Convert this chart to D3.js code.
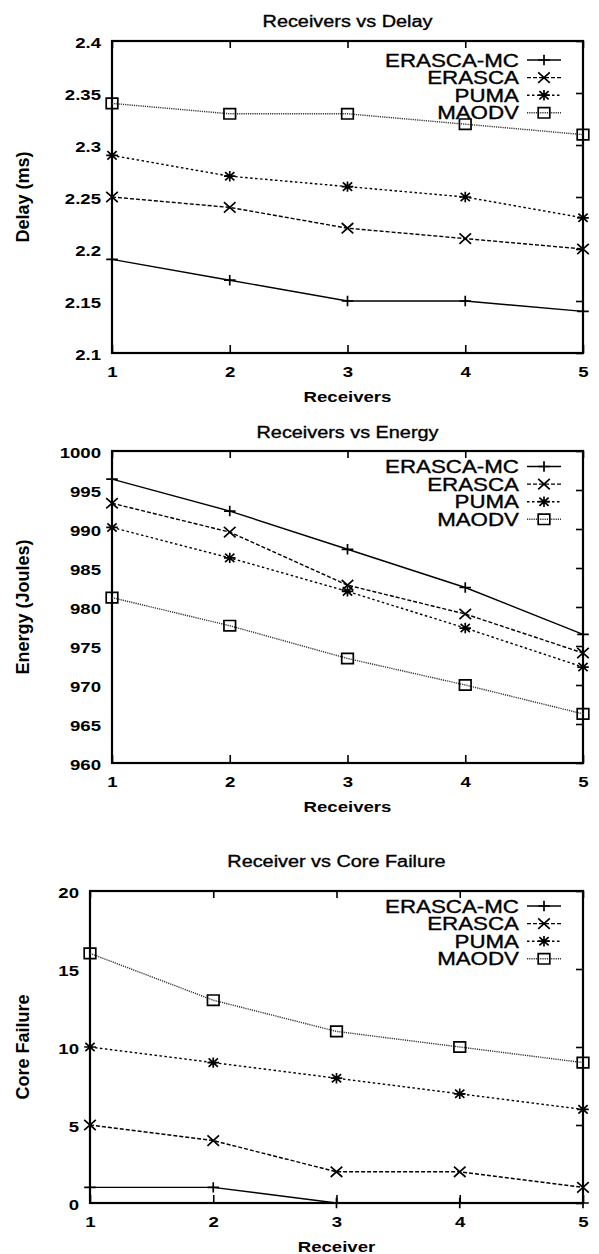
<!DOCTYPE html>
<html>
<head>
<style>
  body { margin: 0; background: #fff; }
  svg text { font-family: "Liberation Sans", Arial, sans-serif; fill: #000; }
  .title { font-size: 16px; text-anchor: middle; stroke: #000; stroke-width: 0.35px; }
  .tick text { font-size: 15px; font-weight: bold; }
  .axis-label { font-size: 15px; font-weight: bold; text-anchor: middle; }
  .legend text { font-size: 18px; text-anchor: end; stroke: #000; stroke-width: 0.35px; }
  .frame { fill: none; stroke: #000; stroke-width: 2.2; }
  .tick line { stroke-width: 1.6; }
</style>
<script src="https://cdnjs.cloudflare.com/ajax/libs/d3/7.8.5/d3.min.js"></script>
</head>
<body>
<svg width="599" height="1254"></svg>
<script>
var receivers = [1, 2, 3, 4, 5];
var seriesNames = ["ERASCA-MC", "ERASCA", "PUMA", "MAODV"];

var delayErascaMC = [2.19, 2.17, 2.15, 2.15, 2.14];
var delayErasca   = [2.25, 2.24, 2.22, 2.21, 2.20];
var delayPuma     = [2.29, 2.27, 2.26, 2.25, 2.23];
var delayMaodv    = [2.34, 2.33, 2.33, 2.32, 2.31];
var delayTicks    = [2.1, 2.15, 2.2, 2.25, 2.3, 2.35, 2.4];

var energyErascaMC = [996.4, 992.3, 987.4, 982.5, 976.5];
var energyErasca   = [993.3, 989.6, 982.8, 979.1, 974.1];
var energyPuma     = [990.2, 986.3, 982.0, 977.3, 972.3];
var energyMaodv    = [981.2, 977.6, 973.4, 970.0, 966.3];
var energyTicks    = [960, 965, 970, 975, 980, 985, 990, 995, 1000];

var failureErascaMC = [1, 1, 0, 0, 0];
var failureErasca   = [5, 4, 2, 2, 1];
var failurePuma     = [10, 9, 8, 7, 6];
var failureMaodv    = [16, 13, 11, 10, 9];
var failureTicks    = [0, 5, 10, 15, 20];

var svg = d3.select("svg");
svg.append("rect").attr("width", 599).attr("height", 1254).attr("fill", "#fff");

// line style + marker per series (gnuplot look)
var dashes = [null, "4,2", "2.5,2.5", "1.2,1"];
var markers = ["plus", "times", "star", "square"];
var widen = 1.24; // the original figure is stretched sideways

function markerPath(type, sx, sy) {
    var plus = "M" + (-sx) + ",0H" + sx + "M0," + (-sy) + "V" + sy;
    var times = "M" + (-sx) + "," + (-sy) + "L" + sx + "," + sy + "M" + (-sx) + "," + sy + "L" + sx + "," + (-sy);
    if (type == "plus") return plus;
    if (type == "times") return times;
    if (type == "star") {
        var a = sx * 0.8, b = sy * 0.8;
        return plus + "M" + (-a) + "," + (-b) + "L" + a + "," + b + "M" + (-a) + "," + b + "L" + a + "," + (-b);
    }
    return "M" + (-sx) + "," + (-sy) + "H" + sx + "V" + sy + "H" + (-sx) + "Z";
}

function stretch(sel) {
    sel.each(function() {
        var w = this.getComputedTextLength();
        if (w > 0) d3.select(this).attr("textLength", w * widen).attr("lengthAdjust", "spacingAndGlyphs");
    });
}

function drawChart(o) {
    var x = d3.scaleLinear().domain([1, 5]).range([o.left, o.right]);
    var y = d3.scaleLinear().domain([o.ticks[0], o.ticks[o.ticks.length - 1]]).range([o.bottom, o.top]);
    var g = svg.append("g");

    // inward mirror ticks on top and right
    g.append("g").attr("transform", "translate(0," + o.top + ")")
        .call(d3.axisTop(x).tickValues(receivers).tickSizeInner(-7).tickSizeOuter(0).tickFormat(""));
    g.append("g").attr("transform", "translate(" + o.right + ",0)")
        .call(d3.axisRight(y).tickValues(o.ticks).tickSizeInner(-7).tickSizeOuter(0).tickFormat(""));

    var xa = g.append("g").attr("transform", "translate(0," + o.bottom + ")")
        .call(d3.axisBottom(x).tickValues(receivers).tickSizeInner(-8).tickSizeOuter(0).tickPadding(13).tickFormat(d3.format("d")));
    var ya = g.append("g").attr("transform", "translate(" + o.left + ",0)")
        .call(d3.axisLeft(y).tickValues(o.ticks).tickSizeInner(0).tickSizeOuter(0).tickPadding(11).tickFormat(function(d) { return String(d); }));
    ya.selectAll("text").attr("dy", "0.42em");
    g.selectAll(".domain").remove();
    stretch(xa.selectAll("text"));
    stretch(ya.selectAll("text"));

    g.append("rect").attr("class", "frame")
        .attr("x", o.left).attr("y", o.top)
        .attr("width", o.right - o.left).attr("height", o.bottom - o.top);

    var line = d3.line()
        .x(function(d, i) { return x(receivers[i]); })
        .y(function(d) { return y(d); });

    o.series.forEach(function(vals, k) {
        g.append("path")
            .attr("d", line(vals))
            .attr("fill", "none")
            .attr("stroke", k == 3 ? "#333" : "#000")
            .attr("stroke-width", 1.4)
            .attr("stroke-dasharray", dashes[k]);
        g.selectAll(null).data(vals).enter().append("path")
            .attr("transform", function(d, i) { return "translate(" + x(receivers[i]) + "," + y(d) + ")"; })
            .attr("d", markerPath(markers[k], 5.8, 5.2))
            .attr("fill", "none")
            .attr("stroke", "#000")
            .attr("stroke-width", 1.7);
    });

    // handmade legend
    var lg = g.append("g").attr("class", "legend");
    seriesNames.forEach(function(name, k) {
        var ry = o.top + o.legendTop + k * 17.6;
        lg.append("text").attr("x", 519).attr("y", ry + 6.5).text(name);
        lg.append("line").attr("x1", 527).attr("x2", 561).attr("y1", ry).attr("y2", ry)
            .attr("stroke", k == 3 ? "#333" : "#000").attr("stroke-width", 1.4)
            .attr("stroke-dasharray", dashes[k]);
        lg.append("path").attr("transform", "translate(544," + ry + ")")
            .attr("d", markerPath(markers[k], 5.8, 5.2))
            .attr("fill", "none").attr("stroke", "#000").attr("stroke-width", 1.7);
    });
    stretch(lg.selectAll("text"));

    var mid = (o.left + o.right) / 2;
    stretch(g.append("text").attr("class", "title").attr("x", mid).attr("y", o.titleY).text(o.title));
    stretch(g.append("text").attr("class", "axis-label").attr("x", mid).attr("y", o.bottom + 49).text(o.xLabel));
    g.append("text").attr("class", "axis-label")
        .style("font-size", "18px")
        .attr("transform", "translate(29," + (o.top + o.bottom) / 2 + ") rotate(-90)")
        .text(o.yLabel);
}

drawChart({
    left: 112, right: 583, top: 41, bottom: 353, titleY: 27, legendTop: 19,
    title: "Receivers vs Delay", xLabel: "Receivers", yLabel: "Delay (ms)",
    ticks: delayTicks,
    series: [delayErascaMC, delayErasca, delayPuma, delayMaodv]
});

drawChart({
    left: 112, right: 583, top: 451, bottom: 763, titleY: 438, legendTop: 15.5,
    title: "Receivers vs Energy", xLabel: "Receivers", yLabel: "Energy (Joules)",
    ticks: energyTicks,
    series: [energyErascaMC, energyErasca, energyPuma, energyMaodv]
});

drawChart({
    left: 90, right: 583, top: 891, bottom: 1203, titleY: 867, legendTop: 15,
    title: "Receiver vs Core Failure", xLabel: "Receiver", yLabel: "Core Failure",
    ticks: failureTicks,
    series: [failureErascaMC, failureErasca, failurePuma, failureMaodv]
});
</script>
</body>
</html>
